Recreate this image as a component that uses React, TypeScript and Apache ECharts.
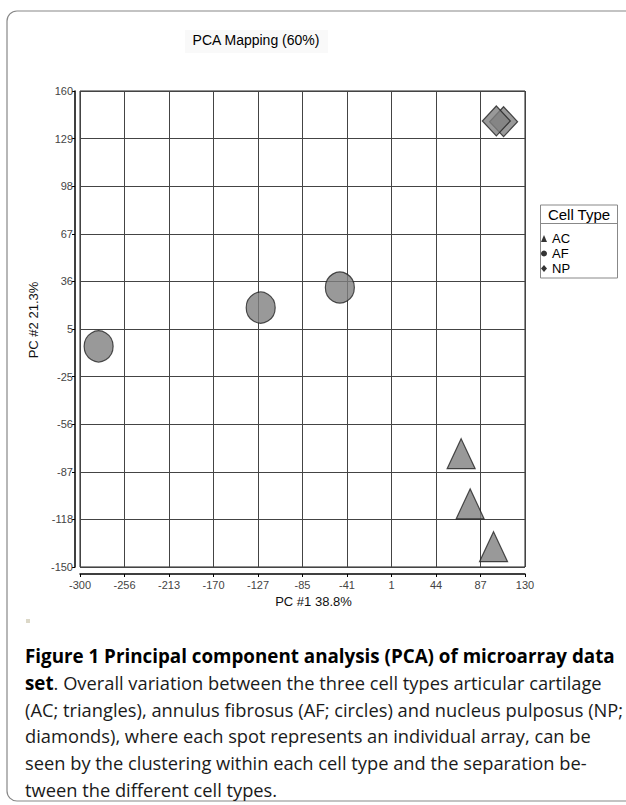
import React, { useEffect, useRef } from "react";
import * as echarts from "echarts";

const xTickLabels = ["-300", "-256", "-213", "-170", "-127", "-85", "-41", "1", "44", "87", "130"];
const yTickLabels = ["-150", "-118", "-87", "-56", "-25", "5", "36", "67", "98", "129", "160"];

const acPoints = [
  [68.3, -76.2],
  [77.0, -108.9],
  [99.6, -136.8],
];
const afPoints = [
  [-282.0, -6.3],
  [-125.4, 18.9],
  [-48.9, 32.0],
];
const npPoints = [
  [109.3, 140.0],
  [102.3, 140.5],
];

const captionLines = [
  "{b|Figure 1 Principal component analysis (PCA) of microarray data}",
  "{b|set}. Overall variation between the three cell types articular cartilage",
  "(AC; triangles), annulus fibrosus (AF; circles) and nucleus pulposus (NP;",
  "diamonds), where each spot represents an individual array, can be",
  "seen by the clustering within each cell type and the separation be-",
  "tween the different cell types.",
];

const FONT = "'Liberation Sans', Arial, sans-serif";
const CAP_FONT = "'Open Sans', 'Noto Sans', sans-serif";

export default function App() {
  const ref = useRef<HTMLDivElement>(null);
  useEffect(() => {
    if (!ref.current) return;
    const chart = echarts.init(ref.current, null, { renderer: "svg" });
    const symStyle = { color: "#808080", borderColor: "#222", borderWidth: 1.2 };
    const caption = captionLines.map((t, i) => ({
      type: "text",
      x: 25,
      y: 656 + i * 26.6,
      z: 10,
      style: {
        text: t,
        fontFamily: CAP_FONT,
        fontSize: 18.3,
        fill: "#1a1a1a",
        textVerticalAlign: "middle",
        verticalAlign: "middle",
        rich: {
          b: { fontWeight: "bold", fontFamily: CAP_FONT, fontSize: 18.8, fill: "#000" },
        },
      },
    }));
    chart.setOption({
      animation: false,
      backgroundColor: "#fff",
      textStyle: { fontFamily: FONT },
      grid: {
        left: 80,
        top: 91,
        right: 101,
        bottom: 238,
        show: true,
        borderColor: "#222",
        borderWidth: 1,
        containLabel: false,
      },
      xAxis: {
        type: "value",
        min: -300,
        max: 130,
        interval: 43,
        offset: 7,
        axisLine: { show: true, onZero: false, lineStyle: { color: "#000", width: 1.5 } },
        axisTick: { show: true, length: 3, lineStyle: { color: "#000" } },
        axisLabel: {
          fontSize: 11,
          color: "#444",
          margin: 5,
          fontFamily: FONT,
          formatter: (v: number) => xTickLabels[Math.round((v + 300) / 43)] ?? "",
        },
        splitLine: { show: true, lineStyle: { color: "#444", width: 1 } },
        name: "PC #1 38.8%",
        nameLocation: "middle",
        nameGap: 21,
        nameTextStyle: { fontSize: 13, color: "#111", fontFamily: FONT, padding: [0, 0, 0, 22] },
      },
      yAxis: {
        type: "value",
        min: -150,
        max: 160,
        interval: 31,
        offset: 5,
        axisLine: { show: true, onZero: false, lineStyle: { color: "#000", width: 1.5 } },
        axisTick: { show: true, length: 3, lineStyle: { color: "#000" } },
        axisLabel: {
          fontSize: 11,
          color: "#444",
          margin: 2,
          fontFamily: FONT,
          formatter: (v: number) => yTickLabels[Math.round((v + 150) / 31)] ?? "",
        },
        splitLine: { show: true, lineStyle: { color: "#444", width: 1 } },
        name: "PC #2 21.3%",
        nameLocation: "middle",
        nameRotate: 90,
        nameGap: 25,
        nameTextStyle: { fontSize: 13, color: "#111", fontFamily: FONT, padding: [0, 0, 0, 18] },
      },
      legend: {
        orient: "vertical",
        left: 541,
        top: 232,
        itemWidth: 6,
        itemHeight: 7,
        itemGap: 2,
        padding: 0,
        selectedMode: false,
        textStyle: { fontSize: 13, color: "#000", fontFamily: FONT },
        data: [
          { name: "AC", icon: "triangle", itemStyle: { color: "#000", borderWidth: 0 } },
          { name: "AF", icon: "circle", itemStyle: { color: "#000", borderWidth: 0 } },
          { name: "NP", icon: "diamond", itemStyle: { color: "#000", borderWidth: 0 } },
        ],
      },
      graphic: [
        {
          type: "rect",
          z: -10,
          shape: { x: 7, y: 11, width: 660, height: 790, r: 10 },
          style: { fill: "none", stroke: "#888", lineWidth: 1.2 },
        },
        {
          type: "rect",
          shape: { x: 185, y: 30, width: 143, height: 23 },
          style: { fill: "#f9f9f9" },
        },
        {
          type: "text",
          x: 256,
          y: 40,
          style: {
            text: "PCA Mapping (60%)",
            fontFamily: FONT,
            fontSize: 14,
            fill: "#000",
            textAlign: "center",
            align: "center",
            textVerticalAlign: "middle",
            verticalAlign: "middle",
          },
        },
        {
          type: "rect",
          shape: { x: 540.5, y: 205, width: 77, height: 73 },
          style: { fill: "#fff", stroke: "#888", lineWidth: 1 },
        },
        {
          type: "line",
          shape: { x1: 540.5, y1: 223.5, x2: 617.5, y2: 223.5 },
          style: { stroke: "#888", lineWidth: 1 },
        },
        {
          type: "text",
          x: 579,
          y: 214.5,
          style: {
            text: "Cell Type",
            fontFamily: FONT,
            fontSize: 15,
            fill: "#000",
            textAlign: "center",
            align: "center",
            textVerticalAlign: "middle",
            verticalAlign: "middle",
          },
        },
        {
          type: "rect",
          shape: { x: 26, y: 619, width: 4, height: 4 },
          style: { fill: "#dcd8c8" },
        },
        ...caption,
      ],
      series: [
        {
          name: "AC",
          type: "scatter",
          symbol: "triangle",
          symbolSize: [28, 30],
          itemStyle: symStyle,
          data: acPoints,
        },
        {
          name: "AF",
          type: "scatter",
          symbol: "circle",
          symbolSize: [29, 31],
          itemStyle: symStyle,
          data: afPoints,
        },
        {
          name: "NP",
          type: "scatter",
          symbol: "diamond",
          symbolSize: [28, 30],
          itemStyle: symStyle,
          data: npPoints,
        },
      ],
    });
    return () => chart.dispose();
  }, []);
  return (
    <div
      ref={ref}
      style={{ position: "absolute", left: 0, top: 0, width: 626, height: 805 }}
    />
  );
}
